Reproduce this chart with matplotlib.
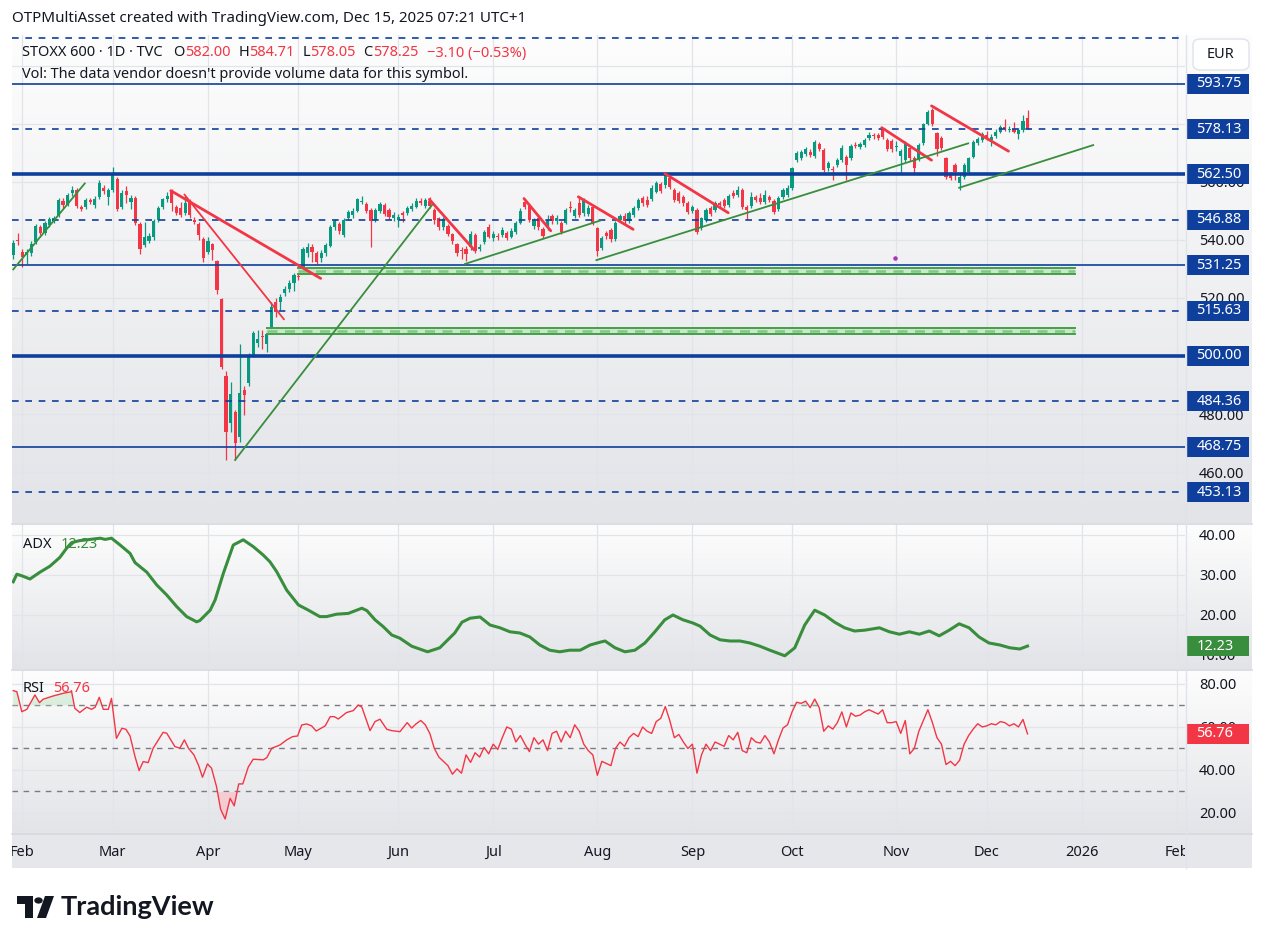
import numpy as np
import pandas as pd
import matplotlib
matplotlib.use("Agg")
import matplotlib.pyplot as plt
from matplotlib.colors import LinearSegmentedColormap
from matplotlib.patches import Rectangle, Circle, Polygon, FancyBboxPatch
from matplotlib.lines import Line2D
from matplotlib.transforms import blended_transform_factory

# ---------------- data (daily bars, Jan 30 2025 .. Dec 12 2025) ----------------
opens = [
    534.8, 539.9, 535.7, 534.8, 535.5, 539.3, 544.3, 542.4, 545.1, 546.6,
    548.5, 553.3, 552.1, 556.0, 557.1, 551.3, 551.4, 553.7, 552.0, 554.8,
    558.0, 554.8, 557.1, 560.8, 551.2, 556.8, 553.1, 554.3, 545.4, 538.2,
    539.7, 540.8, 546.8, 551.4, 553.9, 556.9, 551.2, 550.8, 549.3, 553.3,
    546.8, 545.4, 540.2, 535.9, 538.4, 532.7, 519.6, 493.1, 477.0, 480.6,
    472.2, 488.3, 490.8, 500.3, 504.4, 506.9, 504.1, 509.5, 518.5, 518.7,
    521.6, 523.0, 525.0, 527.6, 530.2, 535.6, 537.4, 535.3, 533.6, 535.3,
    537.9, 544.5, 545.3, 541.6, 547.4, 548.5, 550.0, 553.0, 552.3, 550.2,
    546.8, 550.0, 552.0, 550.2, 547.4, 546.9, 549.1, 549.3, 550.5, 551.4,
    553.5, 551.6, 553.5, 550.2, 547.4, 544.5, 544.7, 541.9, 538.5, 536.5,
    537.0, 537.4, 541.6, 537.0, 539.3, 544.3, 540.6, 541.3, 541.6, 542.2,
    541.1, 542.8, 545.9, 552.9, 551.6, 544.6, 547.4, 543.6, 544.3, 548.1,
    546.3, 545.9, 545.9, 551.4, 548.1, 552.5, 549.1, 548.9, 551.4, 544.0,
    537.2, 542.2, 543.4, 540.2, 546.8, 548.2, 546.6, 548.4, 550.8, 554.3,
    553.7, 553.9, 556.6, 559.1, 558.8, 561.1, 557.1, 556.0, 554.8, 552.5,
    550.0, 550.2, 544.0, 546.8, 550.8, 550.2, 552.5, 553.7, 552.0, 556.0,
    555.4, 557.1, 551.2, 551.6, 554.8, 554.3, 553.1, 554.8, 553.4, 550.5,
    554.8, 555.5, 557.7, 567.4, 568.2, 569.7, 570.3, 569.0, 572.9, 570.9,
    564.6, 564.4, 565.7, 567.4, 568.6, 568.0, 572.6, 572.1, 572.6, 575.1,
    575.9, 576.0, 578.1, 574.3, 574.0, 572.0, 568.8, 567.4, 571.5, 568.2,
    567.8, 573.2, 580.0, 584.6, 576.6, 574.9, 568.0, 562.5, 565.7, 559.7,
    561.7, 563.2, 568.6, 573.2, 574.3, 576.0, 574.3, 575.8, 577.2, 578.9,
    577.8, 578.3, 576.3, 577.8, 582.0,
]
closes = [
    538.9, 539.5, 534.2, 535.9, 538.4, 544.7, 542.4, 545.9, 547.1, 547.5,
    553.7, 552.0, 555.4, 557.1, 551.6, 550.6, 553.7, 553.1, 554.2, 559.6,
    556.9, 557.1, 562.9, 550.7, 556.2, 555.5, 554.3, 545.7, 536.7, 541.1,
    541.3, 546.6, 551.0, 553.9, 555.1, 552.5, 549.3, 548.5, 552.5, 548.4,
    546.2, 541.6, 533.6, 539.6, 536.5, 522.7, 496.1, 474.0, 486.9, 470.0,
    487.2, 486.6, 500.3, 508.0, 505.8, 506.4, 507.6, 517.0, 515.2, 520.4,
    523.0, 525.2, 527.9, 527.1, 536.7, 537.4, 535.9, 532.4, 535.6, 538.2,
    544.5, 546.3, 543.1, 546.8, 549.5, 550.0, 553.9, 553.5, 550.0, 546.6,
    550.2, 552.3, 548.9, 548.0, 548.4, 548.0, 548.5, 550.8, 551.6, 553.5,
    552.8, 553.7, 551.6, 546.8, 544.3, 547.0, 542.0, 539.6, 535.6, 536.1,
    535.0, 542.0, 536.3, 537.4, 542.7, 541.1, 542.0, 541.1, 543.4, 540.6,
    543.1, 545.7, 550.0, 551.4, 546.8, 546.8, 544.3, 541.3, 546.8, 546.3,
    547.4, 542.8, 550.2, 551.0, 550.2, 548.5, 553.7, 550.8, 545.7, 536.0,
    540.5, 541.3, 540.2, 545.9, 548.1, 546.3, 549.3, 550.8, 553.7, 552.5,
    552.0, 558.0, 559.4, 556.9, 562.8, 558.3, 553.7, 553.5, 552.8, 549.7,
    551.2, 542.8, 547.4, 550.2, 548.9, 552.5, 552.0, 551.6, 555.1, 555.1,
    557.1, 551.2, 550.2, 554.8, 553.7, 553.1, 555.4, 553.7, 549.7, 554.3,
    557.3, 558.0, 564.6, 569.8, 570.3, 571.2, 569.2, 573.8, 571.2, 564.0,
    566.3, 564.0, 567.4, 571.7, 565.7, 572.3, 572.3, 572.9, 574.3, 576.0,
    575.6, 574.9, 575.4, 571.2, 571.2, 572.3, 570.5, 573.2, 568.0, 564.6,
    572.6, 579.7, 584.0, 580.0, 571.2, 571.5, 561.7, 561.4, 563.4, 561.7,
    565.7, 568.0, 573.8, 574.7, 576.3, 574.9, 575.4, 577.2, 578.9, 578.3,
    578.3, 577.2, 577.8, 580.9, 578.25,
]
highs = [
    540.0, 542.5, 537.0, 537.0, 539.5, 545.5, 545.0, 546.5, 548.0, 548.3,
    554.3, 554.5, 556.0, 558.5, 557.8, 552.0, 554.5, 554.5, 555.0, 560.5,
    559.0, 558.0, 565.1, 561.5, 557.0, 558.5, 555.5, 555.0, 546.0, 546.0,
    542.5, 547.0, 551.5, 554.5, 556.5, 557.5, 552.0, 553.0, 555.0, 554.0,
    547.8, 546.0, 541.0, 541.0, 539.0, 533.0, 519.8, 495.0, 491.0, 481.5,
    504.1, 489.5, 501.0, 508.5, 509.0, 509.0, 509.0, 518.5, 520.0, 521.5,
    524.0, 526.0, 528.5, 528.2, 537.5, 539.0, 538.5, 536.0, 536.5, 539.0,
    545.0, 547.0, 546.0, 547.5, 550.2, 550.8, 554.5, 555.0, 553.0, 551.0,
    551.0, 553.0, 552.8, 551.0, 549.5, 549.0, 550.0, 551.8, 552.5, 554.3,
    554.5, 554.5, 554.6, 551.0, 548.0, 548.0, 545.5, 542.5, 539.0, 537.5,
    538.0, 543.0, 542.5, 538.5, 543.5, 545.5, 543.0, 542.3, 544.5, 543.0,
    544.0, 546.5, 551.0, 553.8, 552.3, 547.5, 548.2, 544.3, 548.5, 549.0,
    548.5, 546.5, 551.0, 553.5, 551.0, 554.8, 554.3, 552.0, 552.0, 544.5,
    541.3, 543.0, 544.0, 546.5, 548.8, 549.3, 550.0, 551.5, 554.3, 555.0,
    555.2, 558.8, 560.2, 560.0, 563.3, 562.0, 557.8, 556.8, 555.5, 553.2,
    552.0, 551.0, 548.0, 551.0, 551.6, 553.3, 553.5, 554.5, 555.8, 557.0,
    558.5, 557.8, 552.0, 556.5, 555.5, 556.0, 557.3, 555.5, 554.2, 555.0,
    558.0, 559.0, 565.2, 570.5, 571.0, 572.0, 571.3, 574.5, 573.5, 571.5,
    567.2, 565.3, 568.2, 572.5, 569.3, 573.0, 573.8, 573.8, 575.2, 577.0,
    576.8, 576.8, 578.6, 575.0, 574.8, 574.0, 571.3, 574.0, 572.2, 568.8,
    573.4, 580.3, 584.6, 585.3, 577.2, 575.6, 568.6, 563.2, 566.3, 562.5,
    566.3, 568.6, 574.3, 575.4, 577.0, 577.6, 576.3, 578.0, 579.6, 581.6,
    579.3, 580.5, 578.6, 583.0, 584.71,
]
lows = [
    533.5, 538.2, 530.7, 531.5, 534.5, 538.5, 541.5, 541.5, 544.5, 545.8,
    548.0, 551.0, 551.5, 555.0, 551.0, 549.8, 550.5, 552.3, 551.0, 554.0,
    555.8, 552.0, 556.5, 550.0, 550.5, 552.5, 550.5, 545.0, 535.2, 537.5,
    539.0, 540.0, 546.0, 550.5, 553.0, 549.8, 548.5, 548.0, 548.5, 547.5,
    545.5, 540.0, 532.5, 535.0, 533.0, 521.5, 495.5, 464.2, 474.0, 464.2,
    470.5, 479.7, 489.5, 499.5, 503.0, 502.5, 501.5, 508.5, 513.5, 516.0,
    520.5, 522.0, 522.5, 526.3, 529.5, 534.0, 532.4, 531.5, 532.5, 534.5,
    537.5, 543.5, 542.0, 540.8, 546.8, 547.5, 549.5, 552.2, 549.3, 537.4,
    546.0, 549.3, 548.2, 547.3, 546.5, 544.5, 546.0, 548.5, 549.8, 550.8,
    552.0, 551.0, 550.8, 545.5, 543.5, 543.5, 541.2, 538.5, 534.5, 533.5,
    532.7, 536.5, 535.5, 536.0, 538.5, 540.5, 539.5, 539.8, 541.0, 539.8,
    540.5, 542.0, 545.3, 550.7, 546.0, 543.8, 543.5, 540.5, 543.5, 545.5,
    545.5, 542.0, 545.3, 549.5, 547.5, 548.0, 548.2, 548.2, 545.0, 534.4,
    536.5, 540.3, 539.3, 539.5, 546.0, 545.5, 545.8, 547.8, 550.2, 551.8,
    551.3, 553.3, 556.0, 556.0, 558.0, 557.5, 553.0, 552.8, 551.8, 549.0,
    549.3, 542.0, 543.3, 546.0, 548.2, 549.5, 551.2, 550.8, 551.3, 554.3,
    554.7, 550.5, 547.0, 550.8, 553.0, 552.3, 552.3, 553.0, 549.0, 549.8,
    554.2, 554.8, 557.0, 566.8, 567.5, 569.0, 568.5, 568.3, 570.5, 563.3,
    563.8, 560.6, 565.0, 566.8, 560.6, 567.3, 571.5, 571.3, 572.0, 574.5,
    574.8, 574.3, 574.8, 570.5, 570.3, 570.5, 562.5, 566.7, 567.2, 562.5,
    567.0, 572.5, 579.4, 579.3, 568.8, 570.8, 560.8, 560.5, 560.5, 557.1,
    561.0, 562.5, 568.0, 572.5, 573.7, 574.2, 572.3, 575.2, 576.6, 577.6,
    577.2, 576.6, 574.6, 577.2, 578.05,
]

# ADX readings (bar position, value)
adx_pos = [0.0, 0.8, 1.9, 3.7, 5.9, 8.1, 10.3, 11.8, 12.9, 14.7, 17.0, 19.2, 20.3, 21.7,
           23.6, 25.8, 26.9, 29.5, 31.7, 33.9, 36.1, 38.3, 40.5, 41.2, 43.5, 44.6, 46.4,
           48.6, 50.8, 53.0, 55.2, 56.7, 58.2, 60.4, 63.0, 65.2, 67.7, 69.2, 71.4, 74.0,
           77.0, 78.1, 79.9, 81.7, 83.6, 85.4, 88.0, 91.5, 94.2, 97.5, 99.1, 100.9, 103.1,
           105.3, 107.5, 109.7, 111.9, 114.1, 116.3, 118.5, 120.7, 122.9, 125.2, 127.4,
           129.6, 130.7, 132.9, 135.1, 137.3, 139.5, 141.7, 143.9, 145.7, 147.9, 150.1,
           151.7, 153.9, 156.1, 158.3, 160.5, 162.7, 164.9, 167.1, 170.4, 172.6, 174.8,
           177.0, 179.2, 181.4, 183.6, 185.8, 188.0, 191.3, 193.5, 195.7, 197.9, 200.1,
           202.3, 204.5, 206.7, 208.9, 211.1, 213.3, 215.5, 217.9, 220.1, 222.3, 224.0]
adx_val = [28.3, 30.2, 29.8, 29.0, 30.7, 32.2, 34.4, 36.7, 38.1, 38.6, 38.9, 39.2, 38.9, 39.2,
           37.5, 35.4, 33.1, 30.7, 27.5, 25.0, 22.1, 19.6, 18.3, 18.6, 21.2, 23.8, 30.4,
           37.5, 38.8, 37.1, 35.0, 33.3, 30.8, 26.2, 22.5, 21.2, 19.6, 19.6, 20.2, 20.4,
           21.7, 21.1, 18.8, 17.1, 15.0, 14.2, 12.2, 10.8, 11.8, 15.5, 18.2, 19.2, 19.5,
           17.5, 16.8, 15.8, 15.5, 14.5, 12.5, 11.2, 10.8, 11.2, 11.2, 12.5,
           13.2, 13.5, 11.8, 10.8, 11.2, 13.0, 15.8, 18.8, 20.0, 18.8, 18.0,
           17.2, 15.0, 13.8, 13.5, 13.5, 13.0, 12.2, 11.2, 9.8, 11.8, 17.5,
           21.2, 20.0, 18.2, 16.8, 16.0, 16.2, 16.8, 15.8, 15.2, 15.8, 15.2,
           16.0, 14.8, 16.2, 17.8, 16.8, 14.5, 13.0, 12.5, 11.8, 11.5, 12.23]

# RSI readings (bar position, value)
rsi_pos = [0.0, 0.8, 1.9, 3.0, 4.8, 5.8, 6.6, 8.8, 11.1, 12.9, 13.6, 14.7, 16.2, 17.3, 18.1,
           19.0, 19.9, 21.0, 21.7, 22.8, 24.0, 24.9, 25.8, 26.9, 27.8, 28.7, 29.8, 30.9,
           33.1, 33.9, 35.7, 36.8, 37.8, 38.7, 39.9, 40.9, 41.8, 42.9, 43.8, 44.9, 45.8,
           46.8, 47.9, 48.8, 49.8, 50.7, 51.9, 53.0, 55.2, 56.0, 57.1, 58.9, 60.4, 61.7,
           62.8, 63.7, 64.8, 65.9, 66.9, 68.9, 70.0, 70.9, 71.8, 73.6, 75.1, 76.2, 77.0,
           78.8, 79.9, 81.0, 82.5, 83.6, 85.4] + list(range(87, 225))
rsi_val = [76.9, 76.4, 67.1, 68.2, 74.9, 71.3, 72.9, 74.4, 75.7, 76.4, 68.7, 66.7, 69.2, 68.2, 69.2,
           73.8, 68.2, 68.2, 73.3, 54.7, 59.4, 58.9, 55.8, 46.2, 39.7, 43.9, 43.4, 50.1,
           57.5, 57.1, 50.9, 50.1, 54.0, 50.1, 47.0, 42.3, 36.6, 42.8, 40.8, 32.2, 21.7,
           17.2, 26.8, 23.3, 33.5, 33.5, 41.3, 45.0, 44.7, 45.7, 50.1, 51.6, 54.0, 55.5,
           55.8, 60.9, 61.4, 60.5, 58.1, 60.5, 64.8, 64.8, 63.7, 66.7, 67.6, 70.2, 69.2,
           58.3, 62.5, 63.6, 58.9, 58.3, 57.8,
           62.0, 59.5, 61.5, 63.0, 61.0, 57.0, 50.0, 46.0, 44.0, 42.0, 38.0, 40.5, 38.5,
           47.0, 43.5, 48.0, 46.0, 50.5, 47.5, 52.0, 49.5, 55.0, 60.0, 59.0, 53.0, 56.0,
           52.0, 48.5, 55.0, 52.0, 54.0, 49.0, 57.0, 58.0, 53.0, 58.0, 55.0, 61.0, 58.0,
           52.0, 49.0, 47.0, 37.5, 44.0, 43.0, 42.0, 50.0, 53.0, 51.0, 55.0, 57.0, 55.5,
           60.0, 58.0, 57.0, 62.5, 64.0, 69.5, 63.0, 55.0, 56.5, 53.0, 50.0, 52.0, 38.5,
           47.0, 52.0, 49.0, 53.0, 52.0, 51.0, 56.0, 54.0, 57.5, 49.0, 48.0, 55.0, 53.0,
           52.5, 56.0, 53.0, 47.5, 54.0, 59.5, 61.0, 67.0, 71.5, 71.0, 72.0, 69.0, 73.0,
           69.0, 58.0, 60.5, 59.0, 62.0, 67.0, 60.0, 66.5, 65.0, 65.5, 67.0, 68.0, 67.0,
           66.0, 68.0, 62.0, 62.0, 62.5, 57.0, 63.0, 47.5, 50.0, 58.0, 63.0, 68.0, 62.0,
           55.0, 52.0, 42.5, 44.0, 42.0, 44.5, 52.0, 56.0, 59.0, 61.5, 60.0, 60.5, 61.5,
           61.0, 62.5, 62.0, 60.5, 61.5, 60.0, 63.5, 56.76]

# horizontal levels drawn on the chart
bold_levels = [562.50, 500.00]
solid_levels = [593.75, 531.25, 468.75]
dashed_levels = [609.38, 578.13, 546.88, 515.63, 484.36, 453.13]
boxed_levels = [593.75, 578.13, 562.50, 546.88, 531.25, 515.63, 500.00, 484.36, 468.75, 453.13]

# trend lines: (bar0, price0, bar1, price1)
red_lines = [(34.8, 556.9, 67.9, 526.7), (37.8, 555.6, 59.8, 512.6), (91.9, 553.9, 101.8, 536.5),
             (112.8, 554.2, 118.7, 543.1), (124.8, 554.8, 136.9, 543.6), (143.9, 562.8, 157.9, 549.3),
             (191.8, 578.6, 202.8, 567.4), (202.8, 586.1, 219.8, 570.5)]
green_lines = [(0.0, 529.8, 15.8, 559.4), (49.0, 464.2, 92.5, 552.0), (99.8, 531.7, 129.6, 546.6),
               (128.8, 533.0, 210.9, 573.2), (208.9, 557.9, 238.5, 572.6)]
# support zones: (bar0, bar1, low, mid, high)
zones = [(63.0, 234.5, 528.2, 529.4, 530.4), (56.0, 234.5, 507.6, 508.5, 509.5)]

holidays = ['2025-04-18', '2025-04-21', '2025-12-25', '2025-12-26', '2026-01-01']
days = pd.bdate_range('2025-01-30', '2026-02-27', freq='C', holidays=holidays)

# ---------------- style ----------------
plt.rcParams['font.family'] = ['Noto Sans', 'DejaVu Sans']
TXT = '#131722'
UP = '#089981'
DN = '#f23645'
BLUE = '#0e3f9c'
GREEN = '#388e3c'
GRID = '#e2e4ea'
SEP = '#d6d8de'

W, H = 1266, 944
fig = plt.figure(figsize=(W / 100, H / 100), dpi=100)
fig.patch.set_facecolor('white')


def rect(l, t, r, b):
    return [l / W, 1 - b / H, (r - l) / W, (b - t) / H]


grad = LinearSegmentedColormap.from_list('bg', ['#fdfdfd', '#e3e4e8'])


def shade(ax):
    ax.imshow(np.linspace(0, 1, 256).reshape(-1, 1), cmap=grad, aspect='auto',
              extent=[0, 1, 0, 1], transform=ax.transAxes, zorder=0)


XL = (-0.27, 258.78)
month_pos = [k for k in range(1, len(days)) if days[k].month != days[k - 1].month]
month_lab = [str(days[k].year) if days[k].month == 1 else days[k].strftime('%b') for k in month_pos]

# price-scale column backgrounds
for t, b in [(35, 523), (524, 669), (670, 834)]:
    col = fig.add_axes(rect(1185, t, 1252, b))
    shade(col)
    col.set_xlim(0, 1)
    col.set_ylim(0, 1)
    col.axis('off')


def panel(t, b, ylim, yt, hide=()):
    ax = fig.add_axes(rect(12, t, 1185, b))
    shade(ax)
    ax.set_xlim(*XL)
    ax.set_ylim(*ylim)
    ax.set_xticks(month_pos)
    ax.set_xticklabels([])
    ax.set_yticks(yt)
    ax.set_yticklabels(['' if v in hide else f'{v:.2f}' for v in yt])
    ax.yaxis.tick_right()
    ax.tick_params(length=0, labelsize=10.5, labelcolor=TXT, pad=10)
    ax.grid(True, color=GRID, lw=0.9)
    ax.set_axisbelow(True)
    for s in ax.spines.values():
        s.set_visible(False)
    return ax


def value_box(ax, v, text, color, px_h=20):
    y0, y1 = ax.get_ylim()
    hpx = ax.get_position().height * H
    dh = px_h * (y1 - y0) / hpx
    tr = blended_transform_factory(ax.transAxes, ax.transData)
    ax.add_patch(Rectangle((1.0015, v - dh / 2), 62 / 1173, dh, transform=tr, fc=color, ec='none',
                           clip_on=False, zorder=20))
    ax.text(1.0098, v, text, transform=tr, ha='left', va='center', color='white', fontsize=10.5,
            clip_on=False, zorder=21)


# ---------------- main price panel ----------------
ax = panel(35, 523, (442.5, 610.5), list(range(460, 601, 20)), hide=(500, 600))
x = np.arange(len(closes))
o, c, hi, lo = map(np.array, (opens, closes, highs, lows))
col = np.where(c >= o, UP, DN)
ax.vlines(x, lo, hi, colors=col, lw=0.9, zorder=3)
ax.bar(x, np.maximum(np.abs(c - o), 0.35), bottom=np.minimum(o, c), width=0.7,
       color=col, lw=0, zorder=4)

for v in bold_levels:
    ax.axhline(v, color=BLUE, lw=2.6, zorder=5)
for v in solid_levels:
    ax.axhline(v, color=BLUE, lw=1.2, zorder=5)
for v in dashed_levels:
    ax.axhline(v, color=BLUE, lw=1.2, ls=(0, (4, 4)), zorder=5)

for x0, x1, lo_z, mid_z, hi_z in zones:
    ax.fill_between([x0, x1], lo_z, hi_z, color='#c8e6c9', alpha=0.9, lw=0, zorder=5)
    ax.plot([x0, x1], [lo_z, lo_z], color='#43a047', lw=1.4, zorder=6)
    ax.plot([x0, x1], [hi_z, hi_z], color='#43a047', lw=1.4, zorder=6)
    ax.plot([x0, x1], [mid_z, mid_z], color='#81c784', lw=1.8, ls=(0, (4, 3)), zorder=6)

for k, (x0, p0, x1, p1) in enumerate(red_lines):
    ax.plot([x0, x1], [p0, p1], color=DN, lw=1.3 if k == 1 else 2.0, zorder=7,
            solid_capstyle='round')
for x0, p0, x1, p1 in green_lines:
    ax.plot([x0, x1], [p0, p1], color=GREEN, lw=1.3, zorder=7)

ax.scatter([194.7], [533.7], s=5, color='#b02fc0', zorder=8)

for v in boxed_levels:
    value_box(ax, v, f'{v:.2f}', BLUE)

# ---------------- ADX panel ----------------
ax2 = panel(524, 669, (6.5, 42.75), [10, 20, 30, 40])
ax2.plot(adx_pos, adx_val, color=GREEN, lw=2.2, zorder=4, solid_joinstyle='round')
value_box(ax2, adx_val[-1], f'{adx_val[-1]:.2f}', GREEN)

# ---------------- RSI panel ----------------
ax3 = panel(670, 834, (10.2, 86.5), [20, 40, 60, 80])
for v in (70, 50, 30):
    ax3.axhline(v, color='#787b86', lw=1.0, ls=(0, (4, 4)), zorder=2)
rp = np.array(rsi_pos, dtype=float)
rv = np.array(rsi_val)
ax3.fill_between(rp, 70, rv, where=rv > 70, interpolate=True, color='#c8e6c9', alpha=0.6, lw=0, zorder=3)
ax3.fill_between(rp, 30, rv, where=rv < 30, interpolate=True, color='#f7c6cc', alpha=0.8, lw=0, zorder=3)
ax3.plot(rp, rv, color=DN, lw=1.0, zorder=4)
value_box(ax3, rsi_val[-1], f'{rsi_val[-1]:.2f}', DN)

# ---------------- time axis band ----------------
xb = fig.add_axes(rect(12, 834, 1185, 868))
xb.set_facecolor('#e6e7eb')
xb.set_xlim(*XL)
xb.set_ylim(0, 1)
xb.set_xticks([])
xb.set_yticks([])
for s in xb.spines.values():
    s.set_visible(False)
for p, lab in zip(month_pos, month_lab):
    xb.text(p, 0.45, lab, ha='center', va='center', fontsize=10.5, color=TXT,
            fontweight='bold' if lab.isdigit() else 'normal', clip_on=True)
fig.add_artist(Rectangle((1185 / W, 1 - 868 / H), 67 / W, 34 / H, transform=fig.transFigure,
                         fc='#e6e7eb', ec='none'))

# separators
for yy in (523.5, 669.5, 834):
    fig.add_artist(Line2D([12 / W, 1252 / W], [1 - yy / H] * 2, color=SEP, lw=1.2))
fig.add_artist(Line2D([1185.5 / W] * 2, [1 - 35 / H, 1 - 868 / H], color='#e0e3eb', lw=1))

# EUR button
fig.add_artist(FancyBboxPatch((1193 / W, 1 - 70 / H), 56 / W, 31 / H, transform=fig.transFigure,
                              boxstyle='round,pad=0,rounding_size=0.006', fc='white', ec='#e0e3eb',
                              lw=1, zorder=30))
fig.text(1221 / W, 1 - 55 / H, 'EUR', ha='center', va='center', fontsize=10.5, color=TXT, zorder=31)

# ---------------- texts ----------------
fig.text(12 / W, 1 - 18 / H, 'OTPMultiAsset created with TradingView.com, Dec 15, 2025 07:21 UTC+1',
         ha='left', va='center', fontsize=10.9, color=TXT)

renderer = fig.canvas.get_renderer()


def seq_text(x_px, y_px, parts, size=10):
    xp = x_px
    for s, color, gap in parts:
        t = fig.text(xp / W, 1 - y_px / H, s, ha='left', va='center', fontsize=size, color=color,
                     zorder=40)
        xp += t.get_window_extent(renderer=renderer).width + gap


seq_text(22, 53, [('STOXX 600 · 1D · TVC', TXT, 11), ('O', TXT, 0), ('582.00', DN, 8),
                  ('H', TXT, 0), ('584.71', DN, 8), ('L', TXT, 0), ('578.05', DN, 8),
                  ('C', TXT, 0), ('578.25', DN, 9), ('−3.10 (−0.53%)', DN, 0)], size=10.5)
fig.text(22 / W, 1 - 74 / H, "Vol: The data vendor doesn't provide volume data for this symbol.",
         ha='left', va='center', fontsize=10.4, color=TXT)
seq_text(23, 544, [('ADX', TXT, 9), ('12.23', GREEN, 0)], size=10.5)
seq_text(23, 689, [('RSI', TXT, 8), ('56.76', DN, 0)], size=10.5)

# TradingView logo
LOGO = '#131722'


def fp(xp, yp):
    return (xp / W, 1 - yp / H)


fig.add_artist(Polygon([fp(17, 896), fp(33, 896), fp(33, 918), fp(25, 918), fp(25, 904), fp(17, 904)],
                       closed=True, transform=fig.transFigure, fc=LOGO, ec='none'))
fig.add_artist(Circle(fp(38.5, 900.5), 4.2 / W, transform=fig.transFigure, fc=LOGO, ec='none'))
fig.add_artist(Polygon([fp(45, 896), fp(54, 896), fp(46, 918), fp(37, 918)], closed=True,
                       transform=fig.transFigure, fc=LOGO, ec='none'))
fig.text(61 / W, 1 - 907 / H, 'TradingView', ha='left', va='center', fontsize=19.5,
         fontweight='bold', color=LOGO, family=['Lato', 'DejaVu Sans'])

fig.savefig('out.png', dpi=100)
